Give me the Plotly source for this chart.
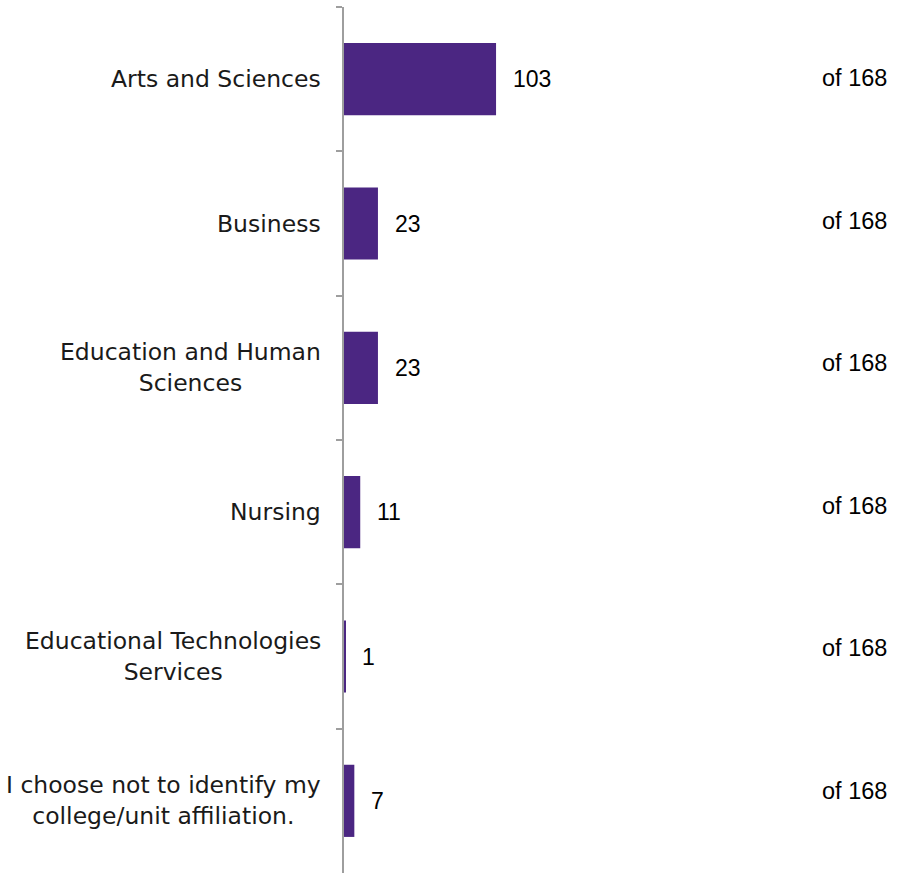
import plotly.graph_objects as go

categories = [
    "Arts and Sciences",
    "Business",
    "Education and Human<br>Sciences",
    "Nursing",
    "Educational Technologies<br>Services",
    "I choose not to identify my<br>college/unit affiliation.",
]
values = [103, 23, 23, 11, 1, 7]
total_label = "of 168"

bar_color = "#4B2682"
label_font = dict(family="DejaVu Sans", size=23.5, color="#1a1a1a")
value_font = dict(family="Liberation Sans, Arial", size=23, color="#000000")
total_font = dict(family="Liberation Sans, Arial", size=23.5, color="#000000")

fig = go.Figure()
fig.add_trace(go.Bar(
    x=values,
    y=categories,
    orientation="h",
    marker=dict(color=bar_color, line=dict(width=0)),
    hoverinfo="skip",
))

annotations = []
for i, (cat, v) in enumerate(zip(categories, values)):
    annotations.append(dict(
        x=0, xref="paper", y=cat, yref="y",
        text=cat, showarrow=False, xanchor="right", yanchor="middle",
        align="center", xshift=-21, font=label_font,
    ))
    annotations.append(dict(
        x=v, xref="x", y=cat, yref="y",
        text=str(v), showarrow=False, xanchor="left", yanchor="middle",
        xshift=15, font=value_font,
    ))
    annotations.append(dict(
        x=1, xref="paper", y=cat, yref="y",
        text=total_label, showarrow=False, xanchor="right", yanchor="middle",
        xshift=-8, yshift=1 + 1.8 * i, font=total_font,
    ))

fig.update_layout(
    width=897, height=879,
    margin=dict(l=344, r=0, t=7, b=6),
    plot_bgcolor="white", paper_bgcolor="white",
    bargap=0.5,
    showlegend=False,
    annotations=annotations,
    xaxis=dict(range=[0, 374.6], visible=False, fixedrange=True),
    yaxis=dict(
        autorange="reversed",
        showticklabels=False,
        showline=True, linecolor="#9e9e9e", linewidth=2,
        ticks="outside", tickson="boundaries", ticklen=6,
        tickcolor="#9e9e9e", tickwidth=2,
        showgrid=False, zeroline=False,
    ),
)

fig.write_html("out.html")
